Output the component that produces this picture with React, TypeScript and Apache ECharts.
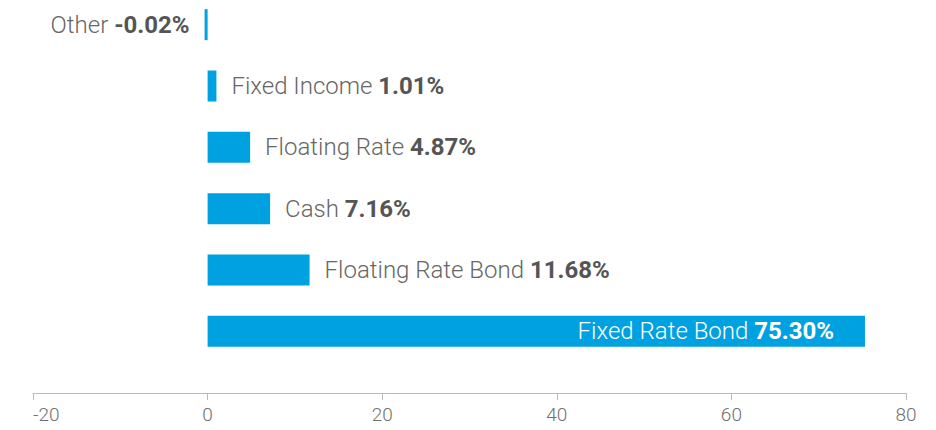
import React, { useEffect, useRef } from "react";
import * as echarts from "echarts";

const categories = ["Other", "Fixed Income", "Floating Rate", "Cash", "Floating Rate Bond", "Fixed Rate Bond"];
const values = [-0.02, 1.01, 4.87, 7.16, 11.68, 75.3];
const valueLabels = ["-0.02%", "1.01%", "4.87%", "7.16%", "11.68%", "75.30%"];
const insideIndex = 5;

const FONT = "Roboto, 'Liberation Sans', Arial, sans-serif";

export default function App() {
  const ref = useRef<HTMLDivElement>(null);
  useEffect(() => {
    if (!ref.current) return;
    const chart = echarts.init(ref.current, undefined, { renderer: "svg" });
    const data = values.map((v, i) => {
      const inside = i === insideIndex;
      const nameColor = inside ? "#ffffff" : "#666666";
      const valColor = inside ? "#ffffff" : "#555555";
      return {
        value: v,
        label: {
          show: true,
          position: inside ? "insideRight" : v < 0 ? "left" : "right",
          distance: inside ? 31 : 15,
          formatter: `{n|${categories[i]} }{v|${valueLabels[i]}}`,
          rich: {
            n: { fontFamily: FONT, fontSize: 24, fontWeight: 300, color: nameColor },
            v: { fontFamily: FONT, fontSize: 24, fontWeight: "bold", color: valColor },
          },
        },
      };
    });
    chart.setOption({
      animation: false,
      grid: { left: 33, right: 30, top: 0, bottom: 68, containLabel: false },
      xAxis: {
        type: "value",
        min: -20,
        max: 80,
        interval: 20,
        position: "bottom",
        offset: 31,
        axisLine: { show: true, lineStyle: { color: "#bbbbbb", width: 1 } },
        axisTick: { show: true, length: 7, lineStyle: { color: "#bbbbbb" } },
        splitLine: { show: false },
        axisLabel: {
          color: "#707070",
          fontFamily: FONT,
          fontWeight: 300,
          fontSize: 19,
          margin: 12,
          alignMinLabel: "left",
        },
      },
      yAxis: {
        type: "category",
        data: categories,
        inverse: true,
        show: false,
      },
      series: [
        {
          type: "bar",
          data,
          barWidth: 31,
          barMinHeight: 3,
          itemStyle: { color: "#00a1e0" },
        },
      ],
    });
    return () => chart.dispose();
  }, []);
  return (
    <div
      ref={ref}
      style={{ position: "fixed", left: 0, top: -6, width: 936, height: 436, background: "#fff" }}
    />
  );
}
